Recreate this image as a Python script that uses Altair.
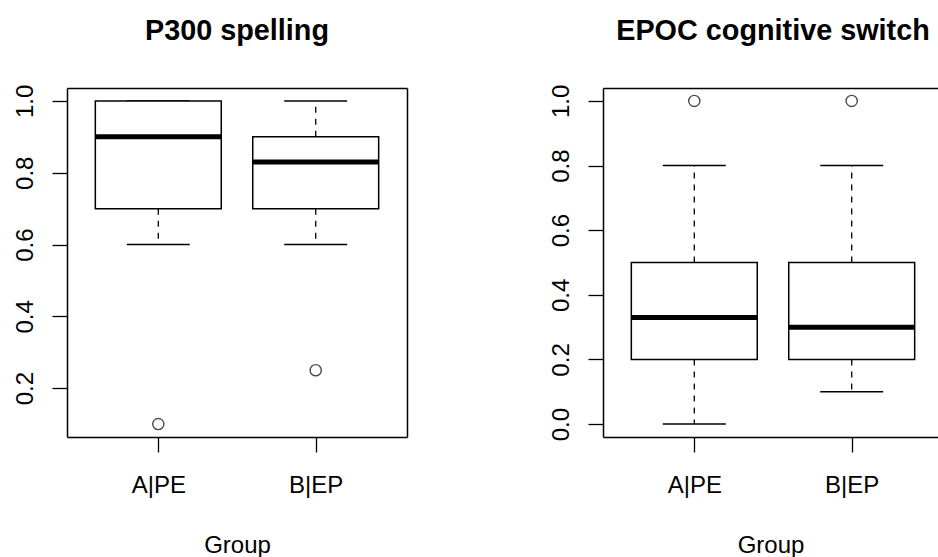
import json
import altair as alt
import pandas as pd

# ---- data ----
groups = ["A|PE", "B|EP"]

p300_lower = [0.6, 0.6]
p300_q1 = [0.7, 0.7]
p300_median = [0.9, 0.83]
p300_q3 = [1.0, 0.9]
p300_upper = [1.0, 1.0]
p300_outlier_groups = ["A|PE", "B|EP"]
p300_outliers = [0.1, 0.25]

epoc_lower = [0.0, 0.1]
epoc_q1 = [0.2, 0.2]
epoc_median = [0.33, 0.30]
epoc_q3 = [0.5, 0.5]
epoc_upper = [0.8, 0.8]
epoc_outlier_groups = ["A|PE", "B|EP"]
epoc_outliers = [1.0, 1.0]

p300_ticks = [0.2, 0.4, 0.6, 0.8, 1.0]
epoc_ticks = [0.0, 0.2, 0.4, 0.6, 0.8, 1.0]

titles = ["P300 spelling", "EPOC cognitive switch"]
x_title = "Group"

# ---- layout / style ----
FONT = "Liberation Sans"
PLOT_H = 349
LEFT_W = 340
RIGHT_W = 335
PX_PER_UNIT = 340 / 2.16
LABEL_EXPR = json.dumps(groups) + "[datum.value - 1]"


def panel(title, lower, q1, med, q3, upper, out_g, out_v, ydomain, yticks,
          width, right_frame, title_dx):
    stats = pd.DataFrame({
        "group": groups,
        "pos": list(range(1, len(groups) + 1)),
        "lower": lower, "q1": q1, "median": med, "q3": q3, "upper": upper,
    })
    outl = pd.DataFrame({"group": out_g, "value": out_v})
    outl["pos"] = [groups.index(g) + 1 for g in out_g]

    xdomain = [0.42, 0.42 + width / PX_PER_UNIT]
    xs = alt.Scale(domain=xdomain, nice=False, zero=False)
    ys = alt.Scale(domain=ydomain, nice=False, zero=False)

    base = alt.Chart(stats).transform_calculate(
        box_l="datum.pos - 0.4", box_r="datum.pos + 0.4",
        cap_l="datum.pos - 0.2", cap_r="datum.pos + 0.2",
    )

    whisk_lo = base.mark_rule(strokeDash=[6, 6], strokeWidth=1.3, color="black").encode(
        x=alt.X("pos:Q", scale=xs, axis=None),
        y=alt.Y("q1:Q", scale=ys, axis=None),
        y2="lower:Q",
    )
    whisk_hi = base.mark_rule(strokeDash=[6, 6], strokeWidth=1.3, color="black").encode(
        x=alt.X("pos:Q", scale=xs, axis=None),
        y=alt.Y("q3:Q", scale=ys, axis=None),
        y2="upper:Q",
    )
    cap_lo = base.mark_rule(strokeWidth=1.5, color="black").encode(
        x=alt.X("cap_l:Q", scale=xs, axis=None), x2="cap_r:Q",
        y=alt.Y("lower:Q", scale=ys, axis=None),
    )
    cap_hi = base.mark_rule(strokeWidth=1.5, color="black").encode(
        x=alt.X("cap_l:Q", scale=xs, axis=None), x2="cap_r:Q",
        y=alt.Y("upper:Q", scale=ys, axis=None),
    )
    box = base.mark_rect(fill="white", stroke="black", strokeWidth=1.5).encode(
        x=alt.X("box_l:Q", scale=xs, axis=alt.Axis(
            values=[1, 2], labelExpr=LABEL_EXPR, tickSize=15, labelPadding=40,
            labelBaseline="alphabetic", labelAlign="center", title=x_title,
            titleY=115, titleBaseline="alphabetic", titleFontWeight="normal",
            domain=True, grid=False)),
        x2="box_r:Q",
        y=alt.Y("q1:Q", scale=ys, axis=alt.Axis(
            values=yticks, format=".1f", labelAngle=270, labelAlign="center",
            labelBaseline="alphabetic", labelPadding=20, tickSize=15,
            title=None, domain=True, grid=False)),
        y2="q3:Q",
    )
    median = base.mark_rule(strokeWidth=5, color="black", strokeCap="butt").encode(
        x=alt.X("box_l:Q", scale=xs, axis=None), x2="box_r:Q",
        y=alt.Y("median:Q", scale=ys, axis=None),
    )
    y_frame_axis = (alt.Axis(orient="right", labels=False, ticks=False, domain=True,
                             title=None, grid=False) if right_frame else None)
    points = alt.Chart(outl).mark_point(
        shape="circle", filled=False, size=125, strokeWidth=1.4, color="black"
    ).encode(
        x=alt.X("pos:Q", scale=xs, axis=alt.Axis(
            orient="top", labels=False, ticks=False, domain=True, title=None, grid=False)),
        y=alt.Y("value:Q", scale=ys, axis=y_frame_axis),
    )

    layers = alt.layer(whisk_lo, whisk_hi, cap_lo, cap_hi, box, median, points)
    layers = layers.resolve_axis(x="independent", y="independent")
    return layers.properties(
        width=width, height=PLOT_H,
        title=alt.TitleParams(text=title, fontSize=28.8, fontWeight="bold", font=FONT,
                              anchor="middle", offset=38, dx=title_dx, color="black"),
    )


left = panel(titles[0], p300_lower, p300_q1, p300_median, p300_q3, p300_upper,
             p300_outlier_groups, p300_outliers, [0.064, 1.036], p300_ticks,
             LEFT_W, True, 0)
right = panel(titles[1], epoc_lower, epoc_q1, epoc_median, epoc_q3, epoc_upper,
              epoc_outlier_groups, epoc_outliers, [-0.04, 1.04], epoc_ticks,
              RIGHT_W, False, (340 - RIGHT_W) / 2)

chart = alt.hconcat(left, right, spacing=196, bounds="flush").properties(
    padding={"left": 13, "top": 17, "right": 0, "bottom": 0},
    background="white",
).configure_view(stroke=None).configure_axis(
    labelFont=FONT, titleFont=FONT, labelFontSize=24, titleFontSize=24,
    labelColor="black", titleColor="black", domainColor="black", tickColor="black",
    domainWidth=1.5, tickWidth=1.3,
)

chart.save("out.html", embed_options={"renderer": "svg", "actions": False})
